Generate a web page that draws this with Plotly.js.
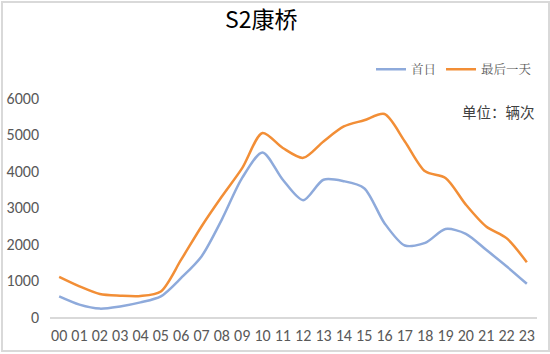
<!DOCTYPE html>
<html>
<head>
<meta charset="utf-8">
<script src="https://cdn.plot.ly/plotly-3.0.1.min.js"></script>
<style>
html,body{margin:0;padding:0;background:#fff;}
#wrap{position:relative;width:550px;height:354px;}
#chart{position:absolute;left:0;top:0;width:550px;height:354px;}
#frame{position:absolute;left:1px;top:1px;width:545px;height:347px;border:2px solid #d9d9d9;pointer-events:none;}
</style>
</head>
<body>
<div id="wrap"><div id="chart"></div><div id="frame"></div></div>
<script>
const hours = ["00","01","02","03","04","05","06","07","08","09","10","11","12","13","14","15","16","17","18","19","20","21","22","23"];
const firstDay = [565,340,230,290,400,565,1070,1660,2670,3810,4510,3760,3200,3760,3720,3530,2570,1960,2030,2410,2280,1840,1390,910];
const lastDay = [1100,840,630,585,575,700,1570,2480,3300,4080,5040,4630,4360,4810,5220,5390,5560,4810,3990,3810,3080,2480,2160,1500];
const yTicks = [0,1000,2000,3000,4000,5000,6000];

const font = "Carlito, Calibri, 'Liberation Sans', 'Noto Sans CJK SC', sans-serif";
const traces = [
  {x: hours, y: firstDay, name: "首日", type: "scatter", mode: "lines",
   line: {color: "#8EAADB", width: 2.5, shape: "spline", smoothing: 0.8}},
  {x: hours, y: lastDay, name: "最后一天", type: "scatter", mode: "lines",
   line: {color: "#F28E36", width: 2.5, shape: "spline", smoothing: 0.8}}
];
const layout = {
  width: 550, height: 354,
  margin: {l: 50, r: 13, t: 98, b: 37},
  paper_bgcolor: "#fff", plot_bgcolor: "#fff",
  title: {text: "S2康桥", font: {family: "'Noto Sans CJK SC', sans-serif", size: 23, color: "#000"}, x: 0.475, xanchor: "center", y: 0.943, yanchor: "middle"},
  showlegend: true,
  legend: {orientation: "h", x: 1, xanchor: "right", y: 1.13, yanchor: "middle",
    font: {family: "'Noto Serif CJK SC', 'Noto Sans CJK SC', serif", size: 12.5, color: "#595959"}, traceorder: "normal"},
  xaxis: {type: "category", range: [-0.45, 23.5], showgrid: false, zeroline: false,
    showline: true, linecolor: "#d9d9d9", linewidth: 1.5, ticks: "",
    tickfont: {family: font, size: 16, color: "#595959"}, ticklabelstandoff: 3, fixedrange: true},
  yaxis: {range: [0, 6000], tickvals: yTicks, showgrid: false, zeroline: false, showline: false,
    ticks: "", tickfont: {family: font, size: 16, color: "#595959"}, ticklabelstandoff: 10},
  annotations: [{text: "单位：辆次", xref: "paper", yref: "paper", x: 1.0, y: 0.94, xanchor: "right", yanchor: "middle",
    showarrow: false, font: {family: "'Noto Sans CJK SC', sans-serif", size: 14.5, color: "#404040"}}]
};
Plotly.newPlot("chart", traces, layout, {displayModeBar: false, staticPlot: true});
</script>
</body>
</html>
